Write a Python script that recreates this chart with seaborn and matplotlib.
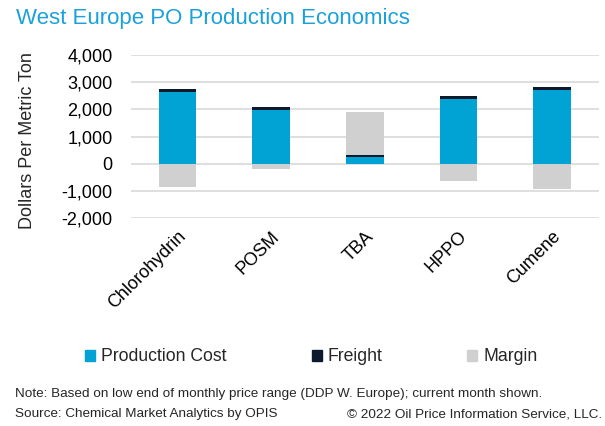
import numpy as np
import pandas as pd
import matplotlib
matplotlib.use("Agg")
import matplotlib.pyplot as plt
import seaborn as sns

# values (USD per metric ton)
processes = ["Chlorohydrin", "POSM", "TBA", "HPPO", "Cumene"]
production_cost = [2650, 1980, 250, 2390, 2725]
freight = [100, 105, 60, 100, 100]
margin = [-865, -200, 1600, -645, -940]

blue = "#00A3D4"
navy = "#0C1A2C"
grey = "#D0D0D0"

sns.set_theme(style="white")
plt.rcParams["font.family"] = ["Liberation Sans", "DejaVu Sans"]

df = pd.DataFrame({"process": processes, "cost": production_cost,
                   "freight": freight, "margin": margin})
df["cost_freight"] = df["cost"] + df["freight"]
# positive margin sits on top of cost + freight, negative margin hangs below zero
df["margin_top"] = np.where(df["margin"] > 0, df["cost_freight"] + df["margin"], df["margin"])

fig = plt.figure(figsize=(6.05, 4.26), dpi=100)
ax = fig.add_axes([0.216, 0.488, 0.774, 0.383])

w = 0.4
bar_kw = dict(width=w, saturation=1, linewidth=0, edgecolor="none", ax=ax)
sns.barplot(data=df, x="process", y="margin_top", color=grey, zorder=2, **bar_kw)
sns.barplot(data=df, x="process", y="cost_freight", color=navy, zorder=3, **bar_kw)
sns.barplot(data=df, x="process", y="cost", color=blue, zorder=4, **bar_kw)

ax.set_ylim(-2000, 4000)
ax.set_yticks(range(-2000, 4001, 1000))
ax.set_yticklabels([f"{v:,}" for v in range(-2000, 4001, 1000)], fontsize=13)
ax.yaxis.grid(True, color="#D9D9D9", linewidth=1.2, zorder=0)
ax.set_axisbelow(True)
for s in ax.spines.values():
    s.set_visible(False)
ax.tick_params(axis="both", length=0, colors="black")
ax.tick_params(axis="y", pad=13)
ax.tick_params(axis="x", pad=7)
ax.set_xlim(-0.5, 4.5)
ax.set_xticks(range(len(processes)))
ax.set_xticklabels(processes, rotation=45, ha="right", rotation_mode="anchor", fontsize=13)
ax.set_xlabel("")
ax.set_ylabel("Dollars Per Metric Ton", fontsize=13)
ax.yaxis.set_label_coords(-0.203, 0.478)

fig.text(0.026, 0.957, "West Europe PO Production Economics", color="#1BA1DA",
         fontsize=16, va="center", ha="left")

handles = [plt.Rectangle((0, 0), 1, 1, color=c) for c in (blue, navy, grey)]
fig.legend(handles, ["Production Cost", "Freight", "Margin"], ncol=3, frameon=False,
           loc="center", bbox_to_anchor=(0.515, 0.162), fontsize=12.7,
           handlelength=0.57, handleheight=0.57, handletextpad=0.35, columnspacing=4.8)

fig.text(0.024, 0.074, "Note: Based on low end of monthly price range (DDP W. Europe); current month shown.",
         fontsize=9.7, va="center")
fig.text(0.024, 0.028, "Source: Chemical Market Analytics by OPIS", fontsize=9.7, va="center")
fig.text(0.995, 0.028, "\u00a9 2022 Oil Price Information Service, LLC.", fontsize=9.7,
         va="center", ha="right")

fig.savefig("out.png", dpi=100)
